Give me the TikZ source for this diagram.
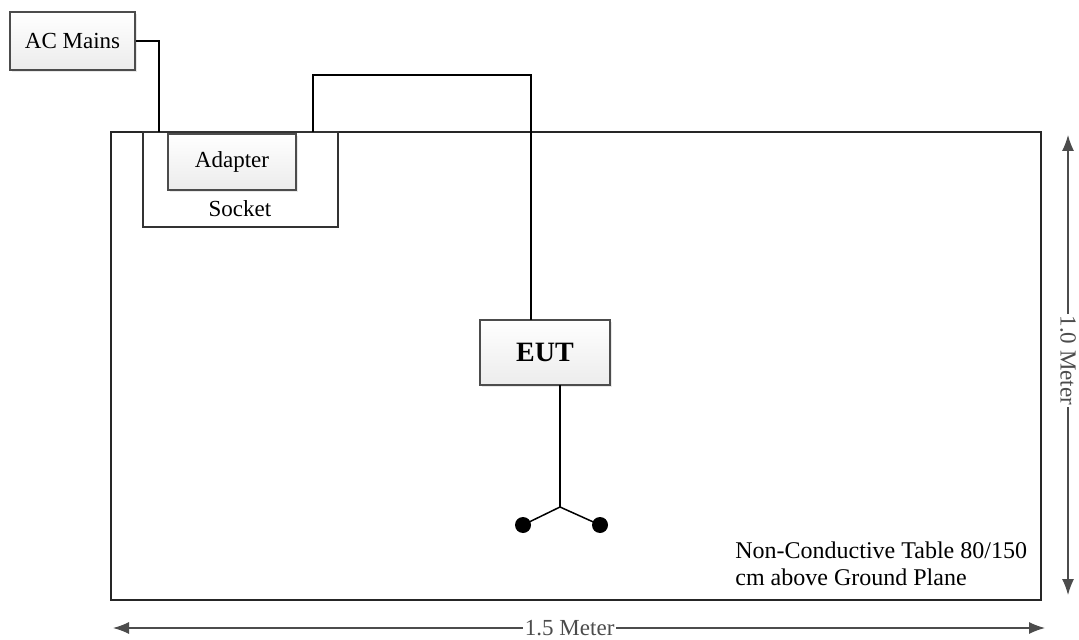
\documentclass[tikz,border=0pt]{standalone}
\usepackage{fontspec}
\setmainfont{Liberation Serif}
\usetikzlibrary{arrows.meta, shadows}

\begin{document}
\begin{tikzpicture}[x=0.5pt, y=-0.5pt, font=\fontsize{11.5}{13.5}\selectfont,
    unitbox/.style={rectangle, draw=gray!60!black, line width=0.8pt, top color=white, bottom color=gray!15,
        drop shadow={shadow xshift=1.2pt, shadow yshift=-1.2pt, fill=gray!35}},
    wire/.style={line width=0.75pt, black},
    dimline/.style={{Latex[length=8pt,width=6pt]}-{Latex[length=8pt,width=6pt]}, gray!60!black, line width=0.6pt},
    dot/.style={circle, fill=black, inner sep=0pt, minimum size=8pt}]
    \useasboundingbox (0,0) rectangle (1079,640);

    % table and socket
    \node[rectangle, draw=black!85, line width=1.2pt, minimum width=465pt, minimum height=234pt] at (576,366) (table) {};
    \node[rectangle, draw=black!80, line width=0.8pt, minimum width=97.5pt, minimum height=47.5pt] at (240.5,179.5) (socket) {};
    \node at (240,209) (socketlbl) {Socket};

    % boxes
    \node[unitbox, minimum width=62.5pt, minimum height=29pt] at (72.5,41) (ac) {AC Mains};
    \node[unitbox, minimum width=64pt, minimum height=28pt] at (232,162) (adapter) {Adapter};
    \node[unitbox, minimum width=65pt, minimum height=32.5pt, font=\fontsize{14}{16}\selectfont\bfseries] at (545,352.5) (eut) {EUT};

    % antenna
    \coordinate (fork) at (560,507);
    \node[dot] at (523,525) (antl) {};
    \node[dot] at (600,525) (antr) {};

    \coordinate (acin) at (159,132);
    \coordinate (adout) at (313,132);
    \coordinate (eutin) at (531,320);
    \coordinate (eutout) at (560,385);

    \draw[wire] (ac.east) -| (acin);
    \draw[wire] (adout) |- (531,75) -- (eutin);
    \draw[wire] (eutout) -- (fork);
    \draw[wire] (antl.center) -- (fork) -- (antr.center);

    % dimensions
    \coordinate (wl) at (113,628);
    \coordinate (wr) at (1045,628);
    \coordinate (ht) at (1068,135);
    \coordinate (hb) at (1068,595);
    \draw[dimline] (wl) -- node[fill=white, inner sep=1pt, pos=0.49] (wlbl) {1.5 Meter} (wr);
    \draw[dimline] (ht) -- node[fill=white, inner sep=1pt, rotate=-90, pos=0.49] (hlbl) {1.0 Meter} (hb);

    \node[anchor=north west, align=left, inner sep=0pt, font=\fontsize{12}{13.5}\selectfont] at (735,541) (note) {Non-Conductive Table 80/150\\cm above Ground Plane};
\end{tikzpicture}
\end{document}
